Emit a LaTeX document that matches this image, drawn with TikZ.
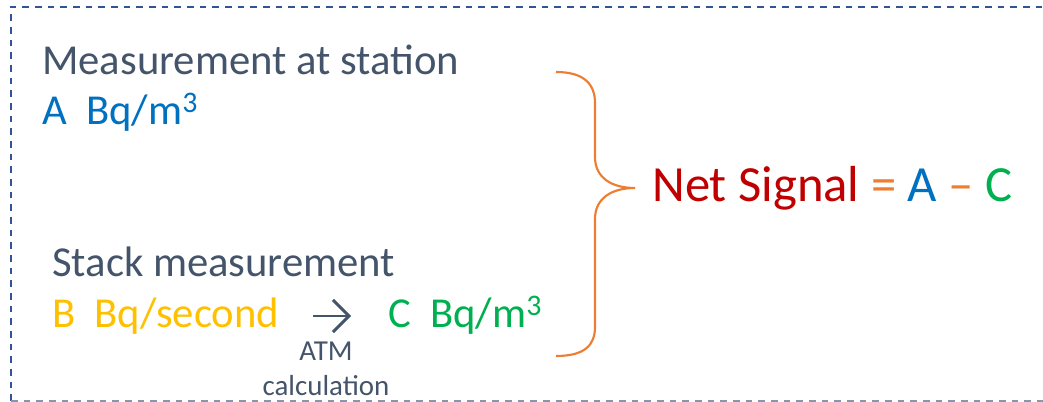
\documentclass[tikz,border=0pt]{standalone}
\usepackage{fontspec}
\setmainfont{Carlito}
\usetikzlibrary{positioning,arrows.meta}
\definecolor{slate}{HTML}{44546A}
\definecolor{sigblue}{HTML}{0070C0}
\definecolor{sigyellow}{HTML}{FFC000}
\definecolor{siggreen}{HTML}{00B050}
\definecolor{sigred}{HTML}{C00000}
\definecolor{sigorange}{HTML}{ED7D31}
\definecolor{framedark}{HTML}{2F5597}
\definecolor{framelight}{HTML}{8497B0}

\begin{document}
\begin{tikzpicture}[x=0.75pt,y=-0.75pt,
    frame/.style={line width=1.4pt,dash pattern=on 5pt off 4.5pt},
    txt/.style={inner sep=0pt,anchor=base west,font=\fontsize{32}{38}\selectfont},
    small/.style={inner sep=0pt,align=center,font=\fontsize{21.7}{26}\selectfont},
    big/.style={inner sep=0pt,anchor=base west,font=\fontsize{38}{44}\selectfont}]
  \useasboundingbox (0,0) rectangle (1043,402);

  % dashed frame
  \draw[frame,framedark] (11,401) -- (11,7) -- (1043,7);
  \draw[frame,framelight] (11,401) -- (1043,401);

  % station
  \node[txt,slate] (station) at (42,75) {Measurement at station};
  \node[txt,sigblue] (aval) at (42,125) {A\ \ Bq/m\textsuperscript{3}};

  % stack
  \node[txt,slate] (stack) at (52,277) {Stack measurement};
  \node[txt,sigyellow] (bval) at (52,328) {B\ \ Bq/second};
  \node[txt,siggreen] (cval) at (388,328) {C\ \ Bq/m\textsuperscript{3}};
  \coordinate (arrstart) at (313,316);
  \coordinate (arrend) at (351,316);
  \draw[slate,line width=2.2pt,-{Straight Barb[length=12pt,width=24pt,line width=2.2pt]}]
    (arrstart) -- (arrend);
  \node[small,slate,anchor=north] (atm) at (326,342) {ATM\\calculation};

  % brace
  \draw[sigorange,line width=1.6pt] (556,72) .. controls (585,72) and (595,85) .. (595,103)
    -- (595,157) .. controls (595,178) and (612,188) .. (635,188)
    .. controls (612,188) and (595,198) .. (595,219)
    -- (595,327) .. controls (595,345) and (585,356) .. (556,356);

  % result
  \node[big] (net) at (652,202) {\textcolor{sigred}{Net Signal} \textcolor{sigorange}{=}
    \textcolor{sigblue}{A} \textcolor{sigorange}{--} \textcolor{siggreen}{C}};
\end{tikzpicture}
\end{document}
